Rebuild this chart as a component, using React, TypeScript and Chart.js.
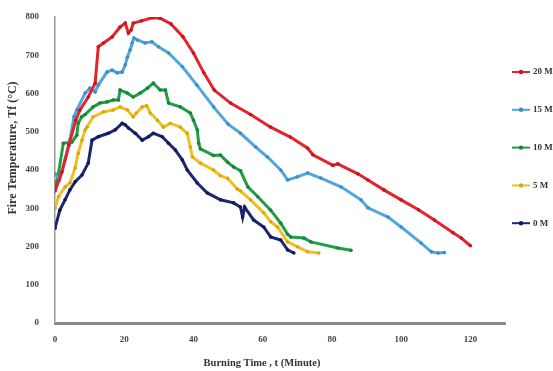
import React, { useEffect, useRef } from "react";
import { Chart, registerables } from "chart.js";

Chart.register(...registerables);

const seriesLabels = ["20 M", "15 M", "10 M", "5 M", "0 M"];
const seriesColors = ["#e3242b", "#4fa7dc", "#1f9e45", "#f0c020", "#1c2672"];
const dotColors = ["#c4161d", "#3b8fc4", "#17843a", "#d9a810", "#101a55"];

const xTitle = "Burning Time , t (Minute)";
const yTitle = "Fire Temperature, Tf (°C)";

const t20 = [0, 2, 4, 6, 7.2, 9.6, 11.6, 12.5, 14, 16.5, 18.8, 20.3, 21.2, 22, 22.6, 25, 28, 30.4, 33.5, 37, 40, 43, 46, 50.7, 56.5, 62.3, 68, 73, 74.5, 80.3, 81.7, 87.5, 90.4, 95, 100, 105, 109.6, 115, 117.4, 120];
const v20 = [345, 395, 465, 530, 557, 591, 627, 722, 732, 748, 774, 784, 758, 766, 784, 790, 798, 797, 782, 748, 706, 654, 609, 575, 545, 512, 486, 457, 440, 412, 416, 390, 374, 348, 322, 296, 269, 236, 222, 202];

const t15 = [0, 1.3, 2.9, 4.3, 5.5, 6.3, 8.7, 10.1, 11.6, 12.5, 15, 16.5, 18, 19.4, 20.3, 20.9, 21.7, 22.3, 22.8, 23.8, 26, 28, 29.9, 32.8, 36.8, 41, 45.8, 50, 53.6, 58, 61.4, 65.2, 67.2, 70, 73, 76.8, 82.6, 88.4, 90.4, 96.2, 100, 105.8, 108.7, 110.7, 112.5];
const v15 = [390, 374, 426, 478, 540, 557, 601, 614, 604, 622, 656, 661, 654, 656, 675, 695, 714, 732, 745, 740, 732, 735, 722, 706, 670, 622, 565, 520, 496, 460, 434, 400, 374, 382, 392, 379, 356, 322, 301, 277, 251, 209, 186, 183, 184];

const t10 = [0, 0.8, 2.4, 4.9, 6.3, 6.7, 7.7, 8.7, 11, 13, 15, 16.8, 18.3, 18.8, 20.9, 22.6, 24.6, 26.7, 28.4, 30.4, 31.9, 32.8, 36.2, 39.1, 40, 41.1, 41.5, 42, 45.8, 47.8, 49.9, 51.6, 53.6, 55.7, 58.6, 62.3, 65.2, 67.2, 68.1, 71.9, 73.9, 81.7, 85.5];
const v10 = [360, 380, 470, 473, 491, 522, 539, 545, 565, 575, 578, 583, 583, 609, 601, 591, 601, 614, 627, 609, 609, 575, 565, 549, 530, 505, 470, 455, 438, 439, 420, 408, 398, 356, 330, 295, 261, 232, 225, 222, 212, 196, 190];

const t5 = [0, 1, 2.9, 4.3, 5.8, 6.7, 7.8, 8.7, 9.2, 11, 14, 16.8, 18.8, 20.9, 22.6, 23.5, 25.2, 26.5, 27.5, 29.6, 31.3, 33.3, 36.2, 38.2, 39.1, 39.7, 42, 45.8, 47.8, 49.9, 52.7, 53.6, 56.5, 60.3, 62.3, 64.3, 67.2, 70.1, 73, 76.2];
const v5 = [300, 330, 356, 366, 405, 444, 478, 505, 512, 539, 552, 557, 565, 557, 539, 549, 565, 568, 549, 530, 512, 522, 512, 496, 460, 434, 418, 400, 385, 378, 350, 345, 322, 288, 265, 251, 212, 199, 186, 183];

const t0 = [0, 1.4, 2.9, 4.3, 5.8, 7.8, 9.6, 10.7, 12.5, 15.4, 17.4, 19.4, 20.3, 21.2, 23.2, 25.2, 27, 28.4, 31, 32.8, 34.8, 36.8, 38.2, 41.1, 44, 47.8, 51.6, 53.6, 54.2, 54.8, 57.4, 60.3, 62.3, 65.2, 67.2, 69];
const v0 = [248, 295, 322, 348, 369, 387, 418, 478, 487, 496, 505, 522, 518, 510, 496, 478, 487, 496, 487, 470, 452, 426, 400, 366, 340, 322, 314, 303, 277, 303, 269, 251, 225, 217, 191, 183];

const seriesT = [t20, t15, t10, t5, t0];
const seriesV = [v20, v15, v10, v5, v0];

const FONT = "'Liberation Serif', 'Times New Roman', serif";

const overlayPlugin = {
  id: "overlay",
  afterDraw(chart: any) {
    const ctx = chart.ctx;
    const ca = chart.chartArea;
    ctx.save();
    ctx.fillStyle = "#333";
    // y axis title
    ctx.save();
    ctx.font = `bold 12px ${FONT}`;
    ctx.translate(13, ca.top + 131);
    ctx.rotate(-Math.PI / 2);
    ctx.textAlign = "center";
    ctx.textBaseline = "middle";
    ctx.fillText(yTitle, 0, 0);
    ctx.restore();
    // x axis title
    ctx.font = `bold 10.5px ${FONT}`;
    ctx.textAlign = "center";
    ctx.textBaseline = "middle";
    ctx.fillText(xTitle, ca.left + 207, ca.bottom + 40);
    // legend
    ctx.font = `bold 9px ${FONT}`;
    chart.data.datasets.forEach((ds: any, i: number) => {
      const y = ca.top + 55 + i * 37.8;
      const x0 = ca.right + 7;
      ctx.strokeStyle = ds.borderColor;
      ctx.lineWidth = 2;
      ctx.beginPath();
      ctx.moveTo(x0, y);
      ctx.lineTo(x0 + 18, y);
      ctx.stroke();
      ctx.fillStyle = ds.pointBackgroundColor;
      ctx.beginPath();
      ctx.arc(x0 + 9, y, 2.2, 0, Math.PI * 2);
      ctx.fill();
      ctx.fillStyle = "#333";
      ctx.textAlign = "left";
      ctx.textBaseline = "middle";
      ctx.fillText(ds.label, x0 + 21, y);
    });
    ctx.restore();
  },
};

export default function App() {
  const ref = useRef<HTMLCanvasElement | null>(null);
  useEffect(() => {
    if (!ref.current) return;
    const datasets = seriesLabels.map((label, i) => ({
      label,
      data: seriesT[i].map((t, j) => ({ x: t, y: seriesV[i][j] })),
      borderColor: seriesColors[i],
      backgroundColor: seriesColors[i],
      pointBackgroundColor: dotColors[i],
      pointBorderWidth: 0,
      pointRadius: 1.8,
      borderWidth: 3,
      tension: 0,
      fill: false,
    }));
    const chart = new Chart(ref.current, {
      type: "line",
      data: { datasets },
      options: {
        animation: false,
        responsive: false,
        devicePixelRatio: 1,
        layout: { padding: { top: 17, right: 48, left: 0, bottom: 0 } },
        plugins: { legend: { display: false }, tooltip: { enabled: false } },
        scales: {
          x: {
            type: "linear",
            min: 0,
            max: 130,
            grid: { display: false },
            border: { display: true, color: "#8a8a8a", width: 3 },
            ticks: {
              stepSize: 20,
              includeBounds: false,
              padding: 3,
              color: "#444",
              font: { family: FONT, size: 9, weight: "bold" },
              maxRotation: 0,
            },
            afterFit: (s: any) => {
              s.height = 48;
            },
          },
          y: {
            min: 0,
            max: 800,
            grid: { display: false },
            border: { display: true, color: "#9a9a9a", width: 1.5 },
            ticks: {
              stepSize: 100,
              padding: 8,
              color: "#444",
              font: { family: FONT, size: 9, weight: "bold" },
            },
            afterFit: (s: any) => {
              s.width = 55;
            },
          },
        },
      },
      plugins: [overlayPlugin],
    });
    return () => chart.destroy();
  }, []);
  return (
    <div style={{ position: "absolute", left: 0, top: 0, width: 553, height: 371, background: "#fff" }}>
      <canvas ref={ref} width={553} height={371} style={{ display: "block" }} />
    </div>
  );
}
